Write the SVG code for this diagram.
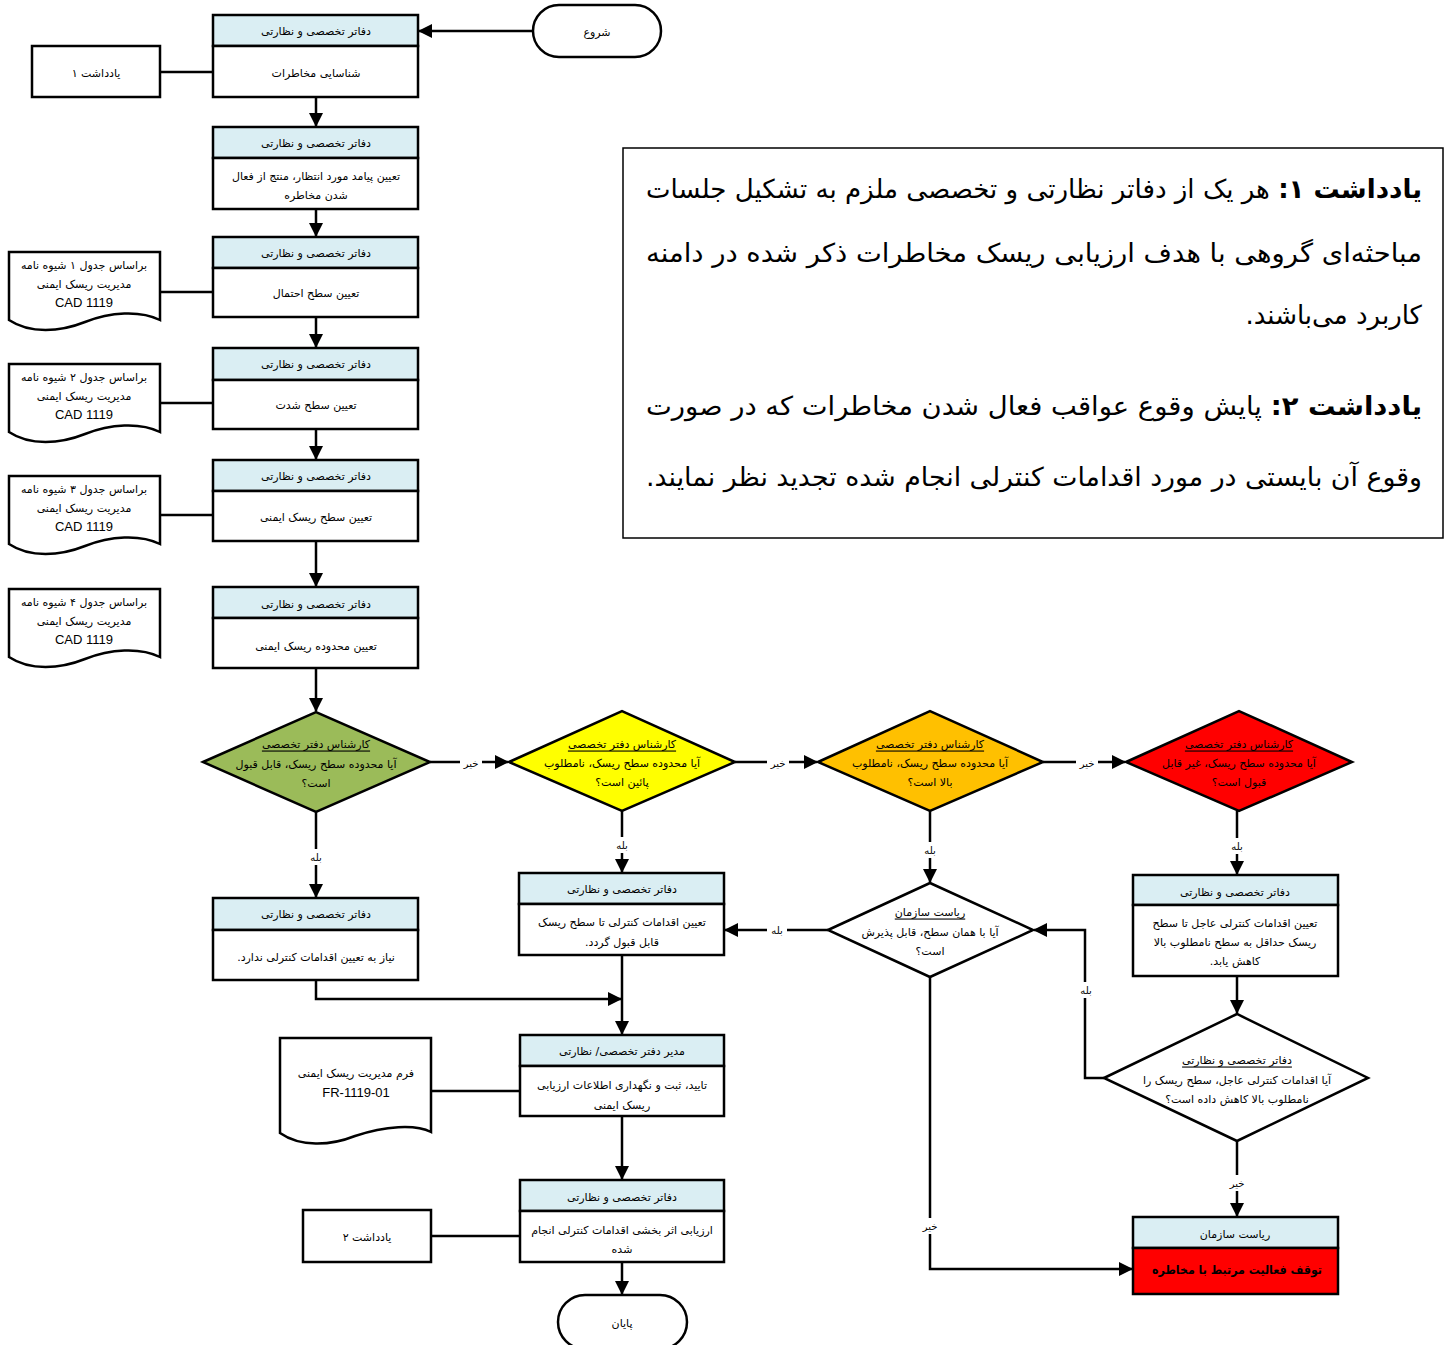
<svg xmlns="http://www.w3.org/2000/svg" width="1448" height="1345" viewBox="0 0 1448 1345">
<defs>
<style>
.box{fill:#fff;stroke:#000;stroke-width:2.5}
.hdr{fill:#DAEEF3;stroke:#000;stroke-width:2.5}
.ln{fill:none;stroke:#000;stroke-width:2.5}
.t{font-family:"DejaVu Sans",sans-serif;font-size:11px;fill:#000;text-anchor:middle;direction:rtl;unicode-bidi:embed;dominant-baseline:central}
.lt{font-family:"Liberation Sans",Arial,sans-serif;font-size:13px;fill:#000;text-anchor:middle;dominant-baseline:central}
.lbl{font-family:"DejaVu Sans",sans-serif;font-size:10px;fill:#000;text-anchor:middle;direction:rtl;unicode-bidi:embed;dominant-baseline:central}
.bg{fill:#fff}
.note{font-family:"DejaVu Sans",sans-serif;font-size:26px;fill:#000;text-anchor:start;direction:rtl;unicode-bidi:embed}
.b{font-weight:bold}
.u{text-decoration:underline}
</style>
<marker id="ah" markerWidth="14" markerHeight="14" refX="13" refY="7" orient="auto" markerUnits="userSpaceOnUse">
<path d="M0,0 L14,7 L0,14 Z" fill="#000"/>
</marker>
</defs>
<rect width="1448" height="1345" fill="#fff"/>

<g id="connectors">
<path class="ln" d="M533,31 H419" marker-end="url(#ah)"/>
<path class="ln" d="M160,72 H213"/>
<path class="ln" d="M316,97 V126" marker-end="url(#ah)"/>
<path class="ln" d="M316,209 V236" marker-end="url(#ah)"/>
<path class="ln" d="M160,292 H213"/>
<path class="ln" d="M316,317 V347" marker-end="url(#ah)"/>
<path class="ln" d="M160,403 H213"/>
<path class="ln" d="M316,429 V459" marker-end="url(#ah)"/>
<path class="ln" d="M160,515 H213"/>
<path class="ln" d="M316,541 V586" marker-end="url(#ah)"/>
<path class="ln" d="M316,668 V711" marker-end="url(#ah)"/>
<path class="ln" d="M430,762 H508" marker-end="url(#ah)"/>
<path class="ln" d="M735,762 H817" marker-end="url(#ah)"/>
<path class="ln" d="M1043,762 H1125" marker-end="url(#ah)"/>
<path class="ln" d="M316,812 V897" marker-end="url(#ah)"/>
<path class="ln" d="M622,811 V872" marker-end="url(#ah)"/>
<path class="ln" d="M930,811 V882" marker-end="url(#ah)"/>
<path class="ln" d="M1237,811 V874" marker-end="url(#ah)"/>
<path class="ln" d="M828,930 H725" marker-end="url(#ah)"/>
<path class="ln" d="M1237,976 V1013" marker-end="url(#ah)"/>
<path class="ln" d="M1104,1078 H1085 V930 H1034" marker-end="url(#ah)"/>
<path class="ln" d="M1237,1141 V1216" marker-end="url(#ah)"/>
<path class="ln" d="M930,977 V1269 H1132" marker-end="url(#ah)"/>
<path class="ln" d="M316,980 V999 H621" marker-end="url(#ah)"/>
<path class="ln" d="M622,955 V1034" marker-end="url(#ah)"/>
<path class="ln" d="M431,1091 H520"/>
<path class="ln" d="M622,1116 V1179" marker-end="url(#ah)"/>
<path class="ln" d="M431,1236 H520"/>
<path class="ln" d="M622,1262 V1294" marker-end="url(#ah)"/>
<rect class="bg" x="460" y="755" width="22" height="14"/><text class="lbl" x="471" y="763">خیر</text>
<rect class="bg" x="767" y="755" width="22" height="14"/><text class="lbl" x="778" y="763">خیر</text>
<rect class="bg" x="1076" y="755" width="22" height="14"/><text class="lbl" x="1087" y="763">خیر</text>
<rect class="bg" x="306" y="849" width="20" height="16"/><text class="lbl" x="316" y="857">بله</text>
<rect class="bg" x="612" y="837" width="20" height="16"/><text class="lbl" x="622" y="845">بله</text>
<rect class="bg" x="920" y="842" width="20" height="16"/><text class="lbl" x="930" y="850">بله</text>
<rect class="bg" x="1227" y="838" width="20" height="16"/><text class="lbl" x="1237" y="846">بله</text>
<rect class="bg" x="767" y="923" width="20" height="14"/><text class="lbl" x="777" y="930">بله</text>
<rect class="bg" x="1076" y="982" width="20" height="16"/><text class="lbl" x="1086" y="990">بله</text>
<rect class="bg" x="1226" y="1175" width="22" height="16"/><text class="lbl" x="1237" y="1183">خیر</text>
<rect class="bg" x="919" y="1218" width="22" height="16"/><text class="lbl" x="930" y="1226">خیر</text>
</g>

<g id="start">
<rect class="box" x="533" y="5" width="128" height="52" rx="26"/>
<text class="t" x="597" y="32">شروع</text>
</g>

<g id="step1">
<rect class="hdr" x="213" y="15" width="205" height="31"/>
<rect class="box" x="213" y="46" width="205" height="51"/>
<text class="t" x="316" y="31">دفاتر تخصصی و نظارتی</text>
<text class="t" x="316" y="73">شناسایی مخاطرات</text>
</g>

<g id="note1">
<rect class="box" x="32" y="46" width="128" height="51"/>
<text class="t" x="96" y="73">یادداشت ۱</text>
</g>

<g id="step2">
<rect class="hdr" x="213" y="127" width="205" height="31"/>
<rect class="box" x="213" y="158" width="205" height="51"/>
<text class="t" x="316" y="143">دفاتر تخصصی و نظارتی</text>
<text class="t" x="316" y="176">تعیین پیامد مورد انتظار، منتج از فعال</text>
<text class="t" x="316" y="195">شدن مخاطره</text>
</g>

<g id="step3">
<rect class="hdr" x="213" y="237" width="205" height="31"/>
<rect class="box" x="213" y="268" width="205" height="49"/>
<text class="t" x="316" y="253">دفاتر تخصصی و نظارتی</text>
<text class="t" x="316" y="293">تعیین سطح احتمال</text>
</g>

<g id="doc1">
<path class="box" d="M9,252 H160 V320 C140,310 110,312 85,322 C60,332 30,334 9,320 Z"/>
<text class="t" x="84" y="265">براساس جدول ۱ شیوه نامه</text>
<text class="t" x="84" y="284">مدیریت ریسک ایمنی</text>
<text class="lt" x="84" y="302">CAD 1119</text>
</g>

<g id="step4">
<rect class="hdr" x="213" y="348" width="205" height="32"/>
<rect class="box" x="213" y="380" width="205" height="49"/>
<text class="t" x="316" y="364">دفاتر تخصصی و نظارتی</text>
<text class="t" x="316" y="405">تعیین سطح شدت</text>
</g>

<g id="doc2">
<path class="box" d="M9,364 H160 V432 C140,422 110,424 85,434 C60,444 30,446 9,432 Z"/>
<text class="t" x="84" y="377">براساس جدول ۲ شیوه نامه</text>
<text class="t" x="84" y="396">مدیریت ریسک ایمنی</text>
<text class="lt" x="84" y="414">CAD 1119</text>
</g>

<g id="step5">
<rect class="hdr" x="213" y="460" width="205" height="31"/>
<rect class="box" x="213" y="491" width="205" height="50"/>
<text class="t" x="316" y="476">دفاتر تخصصی و نظارتی</text>
<text class="t" x="316" y="517">تعیین سطح ریسک ایمنی</text>
</g>

<g id="doc3">
<path class="box" d="M9,476 H160 V544 C140,534 110,536 85,546 C60,556 30,558 9,544 Z"/>
<text class="t" x="84" y="489">براساس جدول ۳ شیوه نامه</text>
<text class="t" x="84" y="508">مدیریت ریسک ایمنی</text>
<text class="lt" x="84" y="526">CAD 1119</text>
</g>

<g id="step6">
<rect class="hdr" x="213" y="587" width="205" height="31"/>
<rect class="box" x="213" y="618" width="205" height="50"/>
<text class="t" x="316" y="604">دفاتر تخصصی و نظارتی</text>
<text class="t" x="316" y="646">تعیین محدوده ریسک ایمنی</text>
</g>

<g id="doc4">
<path class="box" d="M9,589 H160 V657 C140,647 110,649 85,659 C60,669 30,671 9,657 Z"/>
<text class="t" x="84" y="602">براساس جدول ۴ شیوه نامه</text>
<text class="t" x="84" y="621">مدیریت ریسک ایمنی</text>
<text class="lt" x="84" y="639">CAD 1119</text>
</g>

<g id="notes">
<rect x="623" y="148" width="820" height="390" fill="#fff" stroke="#000" stroke-width="1.5"/>
<text class="note" x="1422" y="198" textLength="776" lengthAdjust="spacingAndGlyphs"><tspan class="b">یادداشت ۱:</tspan> هر یک از دفاتر نظارتی و تخصصی ملزم به تشکیل جلسات</text>
<text class="note" x="1422" y="262" textLength="776" lengthAdjust="spacingAndGlyphs">مباحثه‌ای گروهی با هدف ارزیابی ریسک مخاطرات ذکر شده در دامنه</text>
<text class="note" x="1422" y="324">کاربرد می‌باشند.</text>
<text class="note" x="1422" y="415" textLength="776" lengthAdjust="spacingAndGlyphs"><tspan class="b">یادداشت ۲:</tspan> پایش وقوع عواقب فعال شدن مخاطرات که در صورت</text>
<text class="note" x="1422" y="486" textLength="776" lengthAdjust="spacingAndGlyphs">وقوع آن بایستی در مورد اقدامات کنترلی انجام شده تجدید نظر نمایند.</text>
</g>

<g id="dec1">
<path d="M203,762 L316,712 L430,762 L316,812 Z" fill="#9BBB59" stroke="#000" stroke-width="2.5"/>
<text class="t u" x="316" y="744">کارشناس دفتر تخصصی</text>
<text class="t" x="316" y="764">آیا محدوده سطح ریسک، قابل قبول</text>
<text class="t" x="316" y="783">است؟</text>
</g>

<g id="dec2">
<path d="M509,762 L622,711 L735,762 L622,811 Z" fill="#FFFF00" stroke="#000" stroke-width="2.5"/>
<text class="t u" x="622" y="744">کارشناس دفتر تخصصی</text>
<text class="t" x="622" y="763">آیا محدوده سطح ریسک، نامطلوب</text>
<text class="t" x="622" y="782">پائین است؟</text>
</g>

<g id="dec3">
<path d="M818,762 L930,711 L1043,762 L930,811 Z" fill="#FFC000" stroke="#000" stroke-width="2.5"/>
<text class="t u" x="930" y="744">کارشناس دفتر تخصصی</text>
<text class="t" x="930" y="763">آیا محدوده سطح ریسک، نامطلوب</text>
<text class="t" x="930" y="782">بالا است؟</text>
</g>

<g id="dec4">
<path d="M1126,762 L1239,711 L1352,762 L1239,811 Z" fill="#FF0000" stroke="#000" stroke-width="2.5"/>
<text class="t u" x="1239" y="744">کارشناس دفتر تخصصی</text>
<text class="t" x="1239" y="763">آیا محدوده سطح ریسک، غیر قابل</text>
<text class="t" x="1239" y="782">قبول است؟</text>
</g>

<g id="boxA">
<rect class="hdr" x="213" y="898" width="205" height="32"/>
<rect class="box" x="213" y="930" width="205" height="50"/>
<text class="t" x="316" y="914">دفاتر تخصصی و نظارتی</text>
<text class="t" x="316" y="957">نیاز به تعیین اقدامات کنترلی ندارد.</text>
</g>

<g id="boxB">
<rect class="hdr" x="519" y="873" width="205" height="31"/>
<rect class="box" x="519" y="904" width="205" height="51"/>
<text class="t" x="622" y="889">دفاتر تخصصی و نظارتی</text>
<text class="t" x="622" y="922">تعیین اقدامات کنترلی تا سطح ریسک</text>
<text class="t" x="622" y="942">قابل قبول گردد.</text>
</g>

<g id="dec5">
<path d="M828,930 L930,883 L1033,930 L930,977 Z" fill="#fff" stroke="#000" stroke-width="2.5"/>
<text class="t u" x="930" y="912">ریاست سازمان</text>
<text class="t" x="930" y="932">آیا با همان سطح، قابل پذیرش</text>
<text class="t" x="930" y="951">است؟</text>
</g>

<g id="boxC">
<rect class="hdr" x="1133" y="875" width="205" height="30"/>
<rect class="box" x="1133" y="905" width="205" height="71"/>
<text class="t" x="1235" y="892">دفاتر تخصصی و نظارتی</text>
<text class="t" x="1235" y="923">تعیین اقدامات کنترلی عاجل تا سطح</text>
<text class="t" x="1235" y="942">ریسک حداقل به سطح نامطلوب بالا</text>
<text class="t" x="1235" y="961">کاهش یابد.</text>
</g>

<g id="dec6">
<path d="M1104,1078 L1237,1014 L1368,1078 L1237,1141 Z" fill="#fff" stroke="#000" stroke-width="2.5"/>
<text class="t u" x="1237" y="1060">دفاتر تخصصی و نظارتی</text>
<text class="t" x="1237" y="1080">آیا اقدامات کنترلی عاجل، سطح ریسک را</text>
<text class="t" x="1237" y="1099">نامطلوب بالا کاهش داده است؟</text>
</g>

<g id="boxD">
<rect class="hdr" x="1133" y="1217" width="205" height="31"/>
<rect x="1133" y="1248" width="205" height="46" fill="#FF0000" stroke="#000" stroke-width="2.5"/>
<text class="t" x="1235" y="1234">ریاست سازمان</text>
<text class="t b" x="1237" y="1270" style="font-size:12px" textLength="170" lengthAdjust="spacingAndGlyphs">توقف فعالیت مرتبط با مخاطره</text>
</g>

<g id="boxE">
<rect class="hdr" x="520" y="1035" width="204" height="31"/>
<rect class="box" x="520" y="1066" width="204" height="50"/>
<text class="t" x="622" y="1051">مدیر دفتر تخصصی/ نظارتی</text>
<text class="t" x="622" y="1085">تایید، ثبت و نگهداری اطلاعات ارزیابی</text>
<text class="t" x="622" y="1105">ریسک ایمنی</text>
</g>

<g id="docFR">
<path class="box" d="M280,1038 H431 V1132 C415,1124 385,1126 355,1136 C330,1146 300,1147 280,1133 Z"/>
<text class="t" x="356" y="1073">فرم مدیریت ریسک ایمنی</text>
<text class="lt" x="356" y="1092">FR-1119-01</text>
</g>

<g id="boxF">
<rect class="hdr" x="520" y="1180" width="204" height="31"/>
<rect class="box" x="520" y="1211" width="204" height="51"/>
<text class="t" x="622" y="1197">دفاتر تخصصی و نظارتی</text>
<text class="t" x="622" y="1230">ارزیابی اثر بخشی اقدامات کنترلی انجام</text>
<text class="t" x="622" y="1249">شده</text>
</g>

<g id="note2">
<rect class="box" x="303" y="1210" width="128" height="52"/>
<text class="t" x="367" y="1237">یادداشت ۲</text>
</g>

<g id="end">
<rect class="box" x="558" y="1295" width="129" height="54" rx="27"/>
<text class="t" x="622" y="1323">پایان</text>
</g>
</svg>
